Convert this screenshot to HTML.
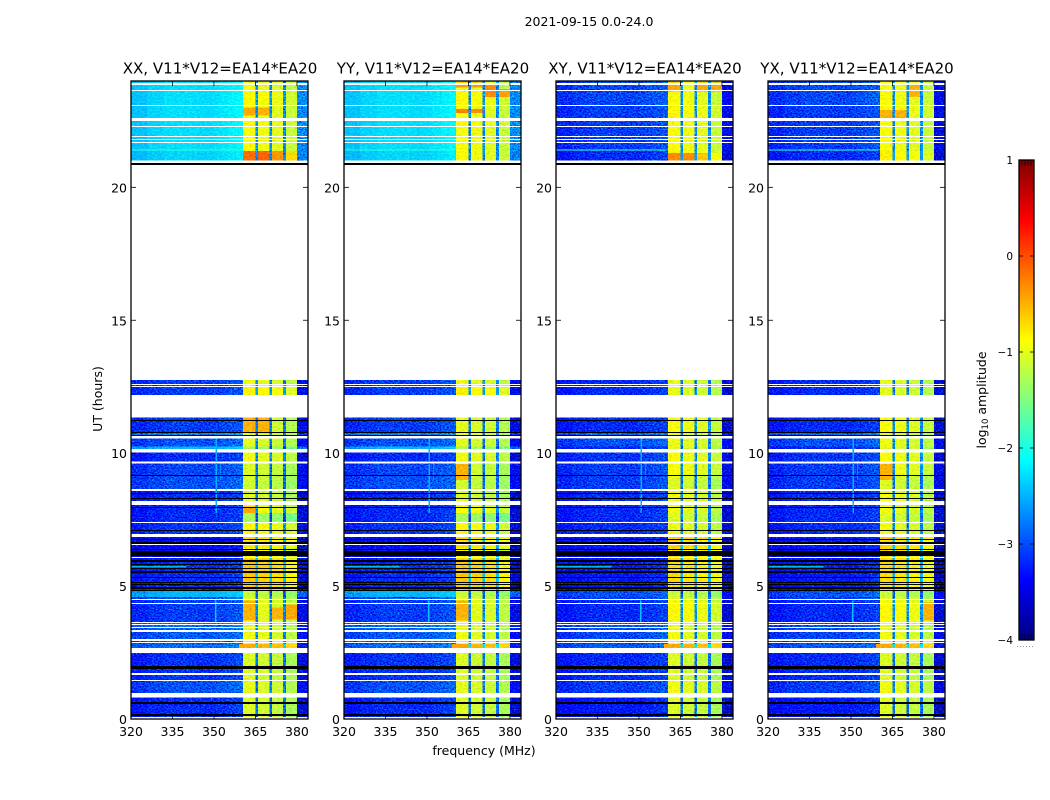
<!DOCTYPE html>
<html lang="en">
<head>
<meta charset="utf-8">
<title>2021-09-15 0.0-24.0</title>
<style>
  html, body { margin: 0; padding: 0; background: #fff; }
  svg { display: block; font-family: "DejaVu Sans", "Liberation Sans", sans-serif; fill: #000; }
</style>
</head>
<body>
<svg id="chart" xmlns="http://www.w3.org/2000/svg" width="1050" height="800" viewBox="0 0 1050 800">
  <defs>
    <filter id="speckle-strong" x="0" y="0" width="100%" height="100%" color-interpolation-filters="sRGB">
      <feTurbulence type="fractalNoise" baseFrequency="0.55 0.75" numOctaves="2" seed="7" result="n"/>
      <feColorMatrix in="n" type="matrix" values="0 0 0 0 0.5  1 0 0 0 0  0.6 0 0 0 0.2  0 0 0 0 1" result="g"/>
      <feComposite in="SourceGraphic" in2="g" operator="arithmetic" k1="0" k2="1" k3="1.3" k4="-0.65" result="c"/>
      <feComposite in="c" in2="SourceGraphic" operator="in"/>
    </filter>
    <filter id="speckle-soft" x="0" y="0" width="100%" height="100%" color-interpolation-filters="sRGB">
      <feTurbulence type="fractalNoise" baseFrequency="0.4 0.6" numOctaves="2" seed="11" result="n"/>
      <feColorMatrix in="n" type="matrix" values="1 0 0 0 0  1 0 0 0 0  1 0 0 0 0  0 0 0 0 1" result="g"/>
      <feComposite in="SourceGraphic" in2="g" operator="arithmetic" k1="0" k2="1" k3="0.3" k4="-0.15" result="c"/>
      <feComposite in="c" in2="SourceGraphic" operator="in"/>
    </filter>
    <linearGradient id="jet-gradient" x1="0" y1="1" x2="0" y2="0"></linearGradient>
  </defs>
  <text x="589" y="26" text-anchor="middle" font-size="12.5">2021-09-15 0.0-24.0</text>
  <text transform="translate(102,399) rotate(-90)" text-anchor="middle" font-size="12.5">UT (hours)</text>
  <text x="484" y="755" text-anchor="middle" font-size="12.5">frequency (MHz)</text>
  <text transform="translate(986,400) rotate(-90)" text-anchor="middle" font-size="12.5">log<tspan font-size="8.5" dy="2">10</tspan><tspan dy="-2"> amplitude</tspan></text>
</svg>
<script>
// --- Chart data ---
const panelTitles = ['XX, V11*V12=EA14*EA20', 'YY, V11*V12=EA14*EA20', 'XY, V11*V12=EA14*EA20', 'YX, V11*V12=EA14*EA20'];
const panelIsCross = [false, false, true, true];
const freqTicks = [320, 335, 350, 365, 380];
const hourTicks = [0, 5, 10, 15, 20];
const colorTicks = [1, 0, -1, -2, -3, -4];

// Frequency bin edges (MHz) and per-bin level shape
const freqEdges = [320, 326, 332, 338, 344, 348, 350, 352, 355, 358, 360.5, 365, 366, 370, 371, 375, 376, 380, 384];
const bgShape = [-0.12, -0.03, 0.02, 0.02, 0, 0, 0.02, 0.06, 0.1, 0.14];
const bandShape = [0, -1.8, -0.06, -1.8, -0.12, -1.8, -0.25];
const edgeShape = [-0.4];

// Observing spans: hour range, background level, band level for parallel and cross hands
const spanFrom = [0.08, 0.98, 1.44, 2.67, 2.82, 3.27, 3.65, 4.45, 4.58, 4.81, 6.04, 6.43, 6.95, 7.37, 7.74, 8.21, 8.65, 9.13, 9.68, 10.15, 10.26, 10.64, 10.8, 12.18, 12.48, 21.01, 21.37, 22.28, 22.6, 23.06, 23.62];
const spanTo = [0.81, 1.44, 2.48, 2.82, 3.27, 3.65, 4.45, 4.58, 4.81, 6.04, 6.43, 6.85, 7.37, 7.74, 8.05, 8.58, 9.13, 9.62, 10.03, 10.26, 10.56, 10.8, 11.35, 12.48, 12.75, 21.37, 22.28, 22.6, 23.06, 23.62, 24];
const bgParallel = [-3.2, -3.0, -3.15, -2.85, -2.95, -2.85, -3.1, -3.0, -2.5, -3.2, -3.4, -3.4, -3.15, -3.2, -3.2, -3.2, -3.0, -3.05, -3.2, -2.5, -3.0, -2.75, -3.1, -3.1, -3.1, -2.35, -2.3, -2.3, -2.3, -2.3, -2.3];
const bandParallel = [-1.05, -1.0, -1.05, -0.45, -0.95, -1.0, -0.95, -1.0, -1.15, -0.6, -0.85, -0.7, -0.85, -1.3, -0.9, -1.05, -1.1, -1.05, -0.95, -1.3, -1.0, -1.0, -1.0, -0.8, -0.95, -0.9, -0.9, -0.85, -0.9, -0.85, -0.95];
const bgCross = [-3.3, -3.1, -3.2, -2.95, -3.05, -3.0, -3.2, -3.1, -3.0, -3.3, -3.4, -3.3, -3.2, -3.2, -3.2, -3.2, -3.1, -3.1, -3.15, -3.2, -3.0, -2.9, -3.2, -3.2, -3.2, -3.2, -3.1, -3.1, -3.1, -3.05, -3.05];
const bandCross = [-1.05, -0.95, -1.05, -0.45, -0.95, -1.0, -0.85, -1.0, -1.15, -0.7, -0.7, -0.65, -0.95, -1.05, -0.95, -0.95, -1.05, -0.9, -0.9, -1.05, -0.95, -1.0, -0.9, -1.0, -1.0, -0.8, -0.9, -0.9, -0.85, -0.9, -0.9];

// Flagged (white) and zero-amplitude (black) hour ranges
const gapFrom = [1.44, 1.67, 2.86, 2.95, 3.27, 3.41, 3.54, 3.63, 4.35, 4.49, 6.04, 6.54, 7.37, 9.64, 12.48, 12.56, 21.65, 21.78, 21.88, 22.27, 22.49, 23.05, 23.62, 23.85];
const gapTo = [1.48, 1.73, 2.90, 3.00, 3.33, 3.45, 3.57, 3.66, 4.38, 4.53, 6.10, 6.58, 7.40, 9.68, 12.51, 12.59, 21.69, 21.82, 21.92, 22.31, 22.60, 23.09, 23.66, 23.92];
const zeroFrom = [0.12, 0.58, 1.88, 4.82, 4.90, 5.05, 5.12, 5.33, 5.48, 5.55, 5.65, 5.80, 5.90, 6.14, 6.37, 6.60, 6.65, 6.73, 7.09, 7.95, 8.30, 8.46, 9.14, 10.65, 10.77, 11.22, 20.83];
const zeroTo = [0.19, 0.64, 1.99, 4.85, 4.97, 5.08, 5.16, 5.35, 5.53, 5.58, 5.68, 5.83, 5.98, 6.33, 6.41, 6.62, 6.67, 6.76, 7.12, 7.97, 8.33, 8.49, 9.17, 10.68, 10.80, 11.25, 20.92];

// Interference features: hour range, frequency range, level
const rfiHourFrom = [2.67, 5.70, 6.20, 3.65, 7.75, 9.00, 21.38];
const rfiHourTo = [2.82, 5.75, 6.24, 4.45, 10.55, 9.62, 21.42];
const rfiFreqFrom = [359, 320, 320, 350.4, 350.6, 352.2, 320];
const rfiFreqTo = [360.5, 340, 338, 351, 351.1, 352.6, 360];
const rfiLevel = [-0.45, -2.5, -2.6, -2.4, -2.5, -2.7, -1.9];

// Bright blocks within the four receiver bands
const bandFreqFrom = [360.5, 366, 371, 376];
const bandFreqTo = [365, 370, 375, 380];
const blockPanel = [0, 0, 0, 0, 0, 0, 0, 0, 0, 0, 0, 0, 1, 1, 1, 1, 1, 1, 1, 1, 2, 2, 2, 2, 2, 2, 2, 3, 3, 3, 3, 3];
const blockBand =  [0, 1, 2, 3, 0, 1, 0, 2, 3, 0, 1, 0, 0, 1, 2, 3, 0, 1, 0, 0, 0, 1, 2, 3, 0, 2, 3, 0, 1, 2, 0, 3];
const blockFrom =  [21.01, 21.01, 21.01, 21.01, 22.7, 22.7, 3.7, 3.75, 3.75, 10.8, 10.8, 7.74, 23.75, 23.75, 23.4, 23.4, 22.8, 22.8, 9.0, 3.7, 21.01, 21.01, 21.01, 21.01, 23.6, 23.6, 23.6, 22.6, 22.6, 23.4, 9.0, 3.7];
const blockTo =    [21.37, 21.37, 21.37, 21.37, 23.0, 23.0, 4.45, 4.2, 4.3, 11.35, 11.35, 8.0, 23.95, 23.95, 23.85, 23.7, 22.95, 22.95, 9.6, 4.45, 21.3, 21.3, 21.3, 21.3, 23.95, 23.95, 23.95, 22.9, 22.9, 23.9, 9.6, 4.4];
const blockLevel = [-0.15, -0.1, -0.35, -0.7, -0.45, -0.5, -0.5, -0.5, -0.45, -0.5, -0.5, -0.45, -0.4, -0.4, -0.3, -0.4, -0.25, -0.3, -0.5, -0.5, -0.3, -0.3, -0.6, -0.9, -0.45, -0.45, -0.45, -0.5, -0.5, -0.5, -0.5, -0.5];

// --- Axis geometry ---
const panelLeft = [131, 344, 556, 768];
const panelWidth = 177;
const plotTop = 81;
const plotBottom = 719;
const hourMax = 24;
const freqMin = 320;
const freqMax = 384;
const colorMin = -4;
const colorMax = 1;
const barLeft = 1019, barWidth = 15, barTop = 160, barBottom = 640;

const svg = document.getElementById('chart');
const NS = 'http://www.w3.org/2000/svg';

function xScale(panel, f) { return panelLeft[panel] + (f - freqMin) * panelWidth / (freqMax - freqMin); }
function yScale(h) { return plotBottom - h * (plotBottom - plotTop) / hourMax; }
function barScale(v) { return barBottom - (v - colorMin) * (barBottom - barTop) / (colorMax - colorMin); }

function clip01(v) { return Math.max(0, Math.min(1, v)); }
function jet(v) {
  const t = clip01((v - colorMin) / (colorMax - colorMin));
  const r = clip01(Math.min(4 * t - 1.5, -4 * t + 4.5));
  const g = clip01(Math.min(4 * t - 0.5, -4 * t + 3.5));
  const b = clip01(Math.min(4 * t + 0.5, -4 * t + 2.5));
  return 'rgb(' + Math.round(r * 255) + ',' + Math.round(g * 255) + ',' + Math.round(b * 255) + ')';
}

function shape(tag, attrs, parent) {
  const el = document.createElementNS(NS, tag);
  for (const k in attrs) el.setAttribute(k, attrs[k]);
  parent.appendChild(el);
  return el;
}

function columnValue(col, bg, band) {
  if (col < bgShape.length) return bg + bgShape[col];
  if (col < bgShape.length + bandShape.length) return band + bandShape[col - bgShape.length];
  return bg + edgeShape[col - bgShape.length - bandShape.length];
}

function drawHourBand(parent, panel, from, to, fill) {
  const top = Math.round(yScale(to));
  const bottom = Math.round(yScale(from));
  return shape('rect', {
    x: panelLeft[panel], y: top, width: panelWidth,
    height: Math.max(1, bottom - top), fill: fill, 'shape-rendering': 'crispEdges'
  }, parent);
}

function drawPanel(panel) {
  const cross = panelIsCross[panel];
  const bgLevels = cross ? bgCross : bgParallel;
  const bandLevels = cross ? bandCross : bandParallel;
  const x0 = panelLeft[panel];

  const group = shape('g', {}, svg);
  
  

  const noisy = shape('g', { filter: 'url(#speckle-strong)' }, group);
  
  
  const smooth = shape('g', { filter: 'url(#speckle-soft)' }, group);
  
  

  spanFrom.forEach(function (from, s) {
    for (let c = 0; c < freqEdges.length - 1; c++) {
      const v = columnValue(c, bgLevels[s], bandLevels[s]);
      const cell = shape('rect', {
        x: xScale(panel, freqEdges[c]), y: yScale(spanTo[s]),
        width: xScale(panel, freqEdges[c + 1]) - xScale(panel, freqEdges[c]),
        height: yScale(from) - yScale(spanTo[s]),
        fill: jet(v), 'shape-rendering': 'crispEdges'
      }, v < -2.6 ? noisy : smooth);
      
      
    }
  });

  blockPanel.forEach(function (p, i) {
    if (p !== panel) return;
    const band = blockBand[i];
    const block = shape('rect', {
      x: xScale(panel, bandFreqFrom[band]), y: yScale(blockTo[i]),
      width: xScale(panel, bandFreqTo[band]) - xScale(panel, bandFreqFrom[band]),
      height: yScale(blockFrom[i]) - yScale(blockTo[i]),
      fill: jet(blockLevel[i]), 'shape-rendering': 'crispEdges'
    }, smooth);
    
    
  });

  rfiHourFrom.forEach(function (from, i) {
    const mark = shape('rect', {
      x: xScale(panel, rfiFreqFrom[i]), y: yScale(rfiHourTo[i]),
      width: xScale(panel, rfiFreqTo[i]) - xScale(panel, rfiFreqFrom[i]),
      height: yScale(from) - yScale(rfiHourTo[i]),
      fill: jet(rfiLevel[i]), 'shape-rendering': 'crispEdges'
    }, group);
    
    
  });

  gapFrom.forEach(function (from, i) {
    const gap = drawHourBand(group, panel, from, gapTo[i], '#fff');
    
    
  });
  zeroFrom.forEach(function (from, i) {
    const zero = drawHourBand(group, panel, from, zeroTo[i], '#000');
    
    
  });

  const frame = shape('rect', {
    x: x0, y: plotTop, width: panelWidth, height: plotBottom - plotTop,
    fill: 'none', stroke: '#000', 'stroke-width': 1.3
  }, group);
  
  

  const title = shape('text', { x: x0 + panelWidth / 2 + 0.5, y: 73.5, 'text-anchor': 'middle', 'font-size': 15.05 }, group);
  title.textContent = panelTitles[panel];
  
  

  freqTicks.forEach(function (f) {
    const x = xScale(panel, f);
    const t1 = shape('line', { x1: x, x2: x, y1: plotBottom, y2: plotBottom - 5, stroke: '#000', 'stroke-width': 0.8 }, group);
    
    
    const t2 = shape('line', { x1: x, x2: x, y1: plotTop, y2: plotTop + 5, stroke: '#000', 'stroke-width': 0.8 }, group);
    
    
    const label = shape('text', { x: x, y: 736, 'text-anchor': 'middle', 'font-size': 12.5 }, group);
    label.textContent = f;
    
    
  });

  hourTicks.forEach(function (h) {
    const y = yScale(h);
    const t1 = shape('line', { x1: x0, x2: x0 + 5, y1: y, y2: y, stroke: '#000', 'stroke-width': 0.8 }, group);
    
    
    const t2 = shape('line', { x1: x0 + panelWidth - 5, x2: x0 + panelWidth, y1: y, y2: y, stroke: '#000', 'stroke-width': 0.8 }, group);
    
    
    const label = shape('text', { x: x0 - 4, y: y + 5, 'text-anchor': 'end', 'font-size': 12.5 }, group);
    label.textContent = h;
    
    
  });
}

function drawColorbar() {
  const gradient = document.getElementById('jet-gradient');
  for (let i = 0; i <= 16; i++) {
    const stop = shape('stop', {
      offset: (i / 16),
      'stop-color': jet(colorMin + (colorMax - colorMin) * i / 16)
    }, gradient);
    
    
  }
  const group = shape('g', {}, svg);
  
  
  const bar = shape('rect', {
    x: barLeft, y: barTop, width: barWidth, height: barBottom - barTop,
    fill: 'url(#jet-gradient)', stroke: '#000', 'stroke-width': 1.3
  }, group);
  
  

  colorTicks.forEach(function (v) {
    const y = barScale(v);
    const t1 = shape('line', { x1: barLeft, x2: barLeft + 4, y1: y, y2: y, stroke: '#000', 'stroke-width': 0.8 }, group);
    
    
    const t2 = shape('line', { x1: barLeft + barWidth - 4, x2: barLeft + barWidth, y1: y, y2: y, stroke: '#000', 'stroke-width': 0.8 }, group);
    
    
    const label = shape('text', { x: 1013, y: y + 4, 'text-anchor': 'end', 'font-size': 10.5 }, group);
    label.textContent = v < 0 ? '\u2212' + Math.abs(v) : String(v);
    
    
  });

  [3, 6, 9, 12].forEach(function (dx) {
    const top = shape('line', { x1: barLeft + dx, x2: barLeft + dx, y1: barTop, y2: barTop + 6, stroke: '#000', 'stroke-width': 0.7 }, group);
    
    
    const bottom = shape('line', { x1: barLeft + dx, x2: barLeft + dx, y1: barBottom - 6, y2: barBottom, stroke: '#000', 'stroke-width': 0.7 }, group);
    
    
  });

  const dots = shape('line', {
    x1: 1017, x2: 1035, y1: 646.5, y2: 646.5, stroke: '#999', 'stroke-width': 1, 'stroke-dasharray': '1 2'
  }, group);
  
  
}

panelTitles.forEach(function (_, p) { drawPanel(p); });
drawColorbar();
</script>
</body>
</html>
